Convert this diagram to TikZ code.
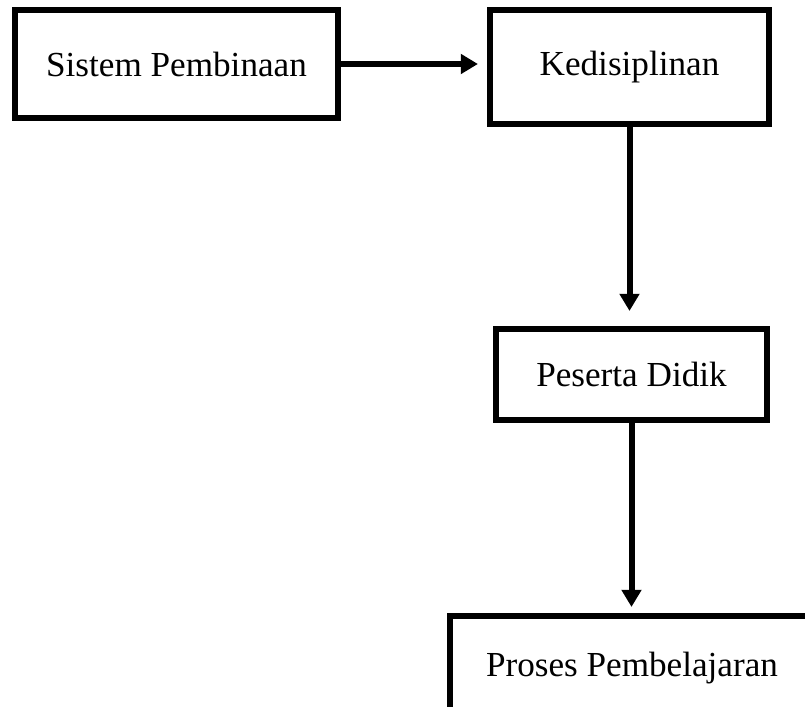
\documentclass[tikz,border=0pt]{standalone}
\usepackage{fontspec}
\setmainfont{Liberation Serif}
\usetikzlibrary{arrows.meta,positioning,calc}

\begin{document}
\begin{tikzpicture}[x=0.025cm, y=-0.025cm,
    box/.style={rectangle, draw=black, line width=0.15cm, inner sep=0pt, font=\fontsize{25}{30}\selectfont},
    arrow/.style={-{Triangle[length=0.43cm, width=0.48cm]}, line width=0.15cm}
]

% Page frame
\clip (0,0) rectangle (805,707);
\useasboundingbox (0,0) rectangle (805,707);

% Top row
\node[box, minimum width=8.075cm, minimum height=2.7cm] (sistem) at (176.5, 64) {Sistem Pembinaan};
\node[box, minimum width=6.975cm, minimum height=2.85cm] (disiplin) at (629.5, 67) {Kedisiplinan};

% Right column
\node[box, minimum width=6.775cm, minimum height=2.275cm] (peserta) at (631.5, 374.5) {Peserta Didik};
\node[box, minimum width=9.1cm, minimum height=2.6cm] (proses) at (632, 668) {Proses Pembelajaran};

% Arrows
\draw[arrow, shorten >=0.225cm] (sistem.east) -- (sistem.east -| disiplin.west);
\draw[arrow, shorten >=0.375cm] (disiplin.south) -- (disiplin.south |- peserta.north);
\draw[arrow, shorten >=0.15cm] (peserta.south) -- (peserta.south |- proses.north);

\end{tikzpicture}
\end{document}
